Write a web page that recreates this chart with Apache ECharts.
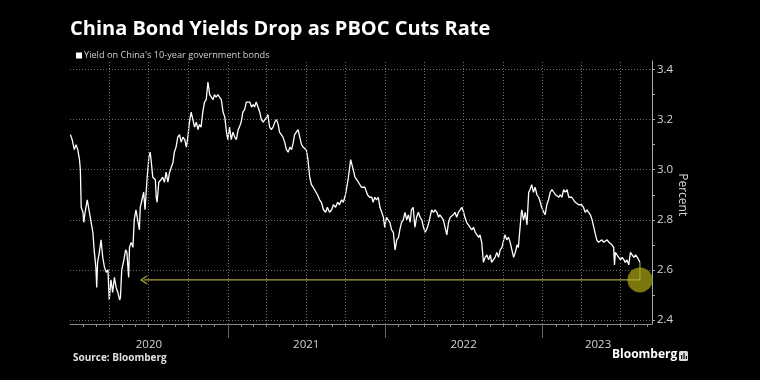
<!DOCTYPE html>
<html>
<head>
<meta charset="utf-8">
<script src="https://cdn.jsdelivr.net/npm/echarts@6/dist/echarts.min.js"></script>
<style>
html,body{margin:0;padding:0;background:#000;}
#chart{width:760px;height:380px;}
</style>
</head>
<body>
<div id="chart"></div>
<script>
const titleText = 'China Bond Yields Drop as PBOC Cuts Rate';
const seriesName = "Yield on China's 10-year government bonds";
const sourceText = 'Source: Bloomberg';
const yearLabels = ['2020', '2021', '2022', '2023'];
const yearLabelDates = ['2020-07-02', '2021-07-02', '2022-07-02', '2023-05-10'];
const yearBoundaryDates = ['2021-01-01', '2022-01-01', '2023-01-01'];
const axisStart = '2020-01-01';
const axisEnd = '2023-09-12';
const yMin = 2.4, yMax = 3.4, yStep = 0.2;
const annotationLevel = 2.56;
const annotationArrowDate = '2020-06-21';

const dates = [
'2020-01-02','2020-01-06','2020-01-11','2020-01-15','2020-01-19','2020-01-23','2020-01-25','2020-01-27','2020-01-31','2020-02-02',
'2020-02-05','2020-02-10','2020-02-13','2020-02-17','2020-02-23','2020-02-26','2020-03-01','2020-03-03','2020-03-05','2020-03-09',
'2020-03-13','2020-03-17','2020-03-21','2020-03-25','2020-03-29','2020-04-01','2020-04-05','2020-04-09','2020-04-13','2020-04-17',
'2020-04-21','2020-04-25','2020-04-27','2020-04-30','2020-05-05','2020-05-09','2020-05-12','2020-05-16','2020-05-18','2020-05-22',
'2020-05-26','2020-05-29','2020-06-02','2020-06-06','2020-06-10','2020-06-12','2020-06-16','2020-06-20','2020-06-23','2020-06-28',
'2020-07-02','2020-07-05','2020-07-07','2020-07-11','2020-07-17','2020-07-19','2020-07-21','2020-07-25','2020-07-30','2020-08-03',
'2020-08-07','2020-08-11','2020-08-15','2020-08-19','2020-08-23','2020-08-27','2020-08-30','2020-09-03','2020-09-07','2020-09-11',
'2020-09-15','2020-09-19','2020-09-23','2020-09-27','2020-10-01','2020-10-04','2020-10-08','2020-10-12','2020-10-16','2020-10-20',
'2020-10-24','2020-10-27','2020-10-31','2020-11-04','2020-11-08','2020-11-12','2020-11-16','2020-11-20','2020-11-24','2020-11-28',
'2020-12-01','2020-12-05','2020-12-09','2020-12-13','2020-12-17','2020-12-21','2020-12-25','2020-12-29','2021-01-01','2021-01-05',
'2021-01-09','2021-01-13','2021-01-17','2021-01-21','2021-01-25','2021-01-28','2021-02-01','2021-02-05','2021-02-09','2021-02-13',
'2021-02-17','2021-02-21','2021-02-25','2021-03-01','2021-03-04','2021-03-08','2021-03-12','2021-03-16','2021-03-20','2021-03-24',
'2021-03-28','2021-04-01','2021-04-04','2021-04-08','2021-04-12','2021-04-16','2021-04-20','2021-04-24','2021-04-28','2021-05-01',
'2021-05-05','2021-05-09','2021-05-13','2021-05-17','2021-05-21','2021-05-25','2021-05-29','2021-06-02','2021-06-05','2021-06-09',
'2021-06-13','2021-06-17','2021-06-21','2021-06-25','2021-06-29','2021-07-02','2021-07-06','2021-07-10','2021-07-14','2021-07-18',
'2021-07-22','2021-07-28','2021-08-02','2021-08-06','2021-08-11','2021-08-16','2021-08-20','2021-08-25','2021-08-30','2021-09-03',
'2021-09-08','2021-09-13','2021-09-17','2021-09-22','2021-09-26','2021-10-01','2021-10-07','2021-10-13','2021-10-19','2021-10-23',
'2021-10-31','2021-11-07','2021-11-15','2021-11-21','2021-11-26','2021-12-01','2021-12-04','2021-12-08','2021-12-12','2021-12-16',
'2021-12-20','2021-12-24','2021-12-28','2021-12-31','2022-01-04','2022-01-08','2022-01-12','2022-01-16','2022-01-20','2022-01-24',
'2022-01-28','2022-02-01','2022-02-04','2022-02-08','2022-02-12','2022-02-16','2022-02-20','2022-02-24','2022-02-28','2022-03-03',
'2022-03-07','2022-03-11','2022-03-15','2022-03-19','2022-03-23','2022-03-27','2022-03-31','2022-04-04','2022-04-07','2022-04-11',
'2022-04-15','2022-04-19','2022-04-23','2022-04-27','2022-05-01','2022-05-05','2022-05-08','2022-05-12','2022-05-16','2022-05-20',
'2022-05-24','2022-05-28','2022-06-01','2022-06-04','2022-06-08','2022-06-12','2022-06-16','2022-06-20','2022-06-24','2022-06-28',
'2022-07-02','2022-07-05','2022-07-09','2022-07-13','2022-07-17','2022-07-21','2022-07-25','2022-07-29','2022-08-02','2022-08-06',
'2022-08-09','2022-08-13','2022-08-17','2022-08-21','2022-08-25','2022-08-29','2022-09-02','2022-09-05','2022-09-09','2022-09-13',
'2022-09-17','2022-09-21','2022-09-25','2022-09-29','2022-10-03','2022-10-06','2022-10-10','2022-10-14','2022-10-18','2022-10-22',
'2022-10-26','2022-10-30','2022-11-03','2022-11-06','2022-11-10','2022-11-13','2022-11-14','2022-11-18','2022-11-22','2022-11-26',
'2022-11-30','2022-12-03','2022-12-07','2022-12-11','2022-12-15','2022-12-19','2022-12-23','2022-12-27','2022-12-30','2023-01-04',
'2023-01-07','2023-01-11','2023-01-15','2023-01-19','2023-01-23','2023-01-27','2023-01-31','2023-02-04','2023-02-08','2023-02-11',
'2023-02-15','2023-02-19','2023-02-23','2023-02-27','2023-03-03','2023-03-06','2023-03-10','2023-03-18','2023-03-26','2023-04-02',
'2023-04-06','2023-04-10','2023-04-14','2023-04-18','2023-04-22','2023-04-26','2023-04-30','2023-05-04','2023-05-07','2023-05-11',
'2023-05-15','2023-05-19','2023-05-23','2023-05-27','2023-05-31','2023-06-04','2023-06-08','2023-06-11','2023-06-15','2023-06-17',
'2023-06-19','2023-06-23','2023-06-27','2023-07-01','2023-07-05','2023-07-09','2023-07-12','2023-07-16','2023-07-20','2023-07-24',
'2023-07-28','2023-08-01','2023-08-05','2023-08-09','2023-08-13','2023-08-15'
];
const yields = [
3.14,3.12,3.08,3.10,3.08,3.04,3.00,2.85,2.83,2.79,
2.83,2.88,2.88,2.81,2.75,2.68,2.61,2.53,2.63,2.67,
2.72,2.65,2.61,2.59,2.60,2.48,2.56,2.51,2.57,2.53,
2.51,2.48,2.49,2.60,2.64,2.68,2.67,2.57,2.69,2.71,
2.69,2.80,2.84,2.80,2.76,2.85,2.88,2.91,2.84,2.97,
3.05,3.07,3.04,2.97,2.96,2.89,2.87,2.95,2.96,2.97,
2.95,2.99,2.95,2.99,2.99,3.03,3.07,3.09,3.13,3.14,
3.11,3.13,3.12,3.09,3.14,3.19,3.23,3.20,3.17,3.19,
3.16,3.18,3.17,3.23,3.27,3.28,3.35,3.30,3.30,3.28,
3.30,3.29,3.30,3.29,3.28,3.23,3.21,3.15,3.12,3.17,
3.12,3.15,3.13,3.12,3.16,3.17,3.19,3.23,3.24,3.27,
3.27,3.27,3.25,3.26,3.25,3.27,3.25,3.23,3.20,3.19,
3.20,3.21,3.22,3.17,3.16,3.17,3.19,3.20,3.18,3.15,
3.14,3.13,3.11,3.08,3.07,3.09,3.08,3.11,3.14,3.15,
3.16,3.13,3.10,3.09,3.09,3.08,3.04,2.97,2.94,2.93,
2.93,2.90,2.88,2.87,2.84,2.83,2.85,2.83,2.84,2.86,
2.85,2.87,2.86,2.88,2.87,2.90,2.96,3.04,3.00,2.97,
2.95,2.93,2.93,2.90,2.89,2.89,2.87,2.89,2.88,2.89,
2.85,2.83,2.81,2.77,2.81,2.80,2.79,2.76,2.75,2.68,
2.72,2.73,2.76,2.79,2.80,2.83,2.80,2.82,2.79,2.84,
2.85,2.77,2.81,2.83,2.81,2.80,2.77,2.75,2.76,2.78,
2.81,2.84,2.83,2.84,2.83,2.81,2.82,2.81,2.80,2.77,
2.74,2.79,2.81,2.81,2.82,2.83,2.81,2.83,2.83,2.85,
2.83,2.81,2.79,2.78,2.77,2.76,2.77,2.75,2.75,2.73,
2.74,2.71,2.63,2.65,2.66,2.64,2.66,2.63,2.63,2.65,
2.67,2.65,2.68,2.69,2.72,2.74,2.72,2.73,2.71,2.68,
2.65,2.67,2.70,2.69,2.69,2.83,2.84,2.80,2.83,2.78,
2.91,2.92,2.94,2.91,2.93,2.90,2.89,2.87,2.85,2.83,
2.82,2.86,2.88,2.91,2.92,2.91,2.90,2.90,2.89,2.90,
2.89,2.92,2.91,2.92,2.89,2.89,2.89,2.87,2.86,2.86,
2.85,2.83,2.84,2.83,2.82,2.80,2.77,2.74,2.72,2.71,
2.71,2.72,2.71,2.71,2.72,2.71,2.71,2.70,2.69,2.62,
2.67,2.66,2.65,2.64,2.65,2.64,2.63,2.64,2.62,2.67,
2.67,2.65,2.66,2.65,2.65,2.63
];

const ts = s => echarts.number.parseDate(s).getTime();
const startTs = ts(axisStart), endTs = ts(axisEnd);

// monthly and quarterly positions for axis ticks / grid lines
const monthTicks = [], quarterTicks = [];
for (let y = 2020; y <= 2023; y++) {
  for (let m = 1; m <= 12; m++) {
    const t = ts(y + '-' + String(m).padStart(2, '0') + '-01');
    if (t > startTs && t <= endTs) {
      monthTicks.push(t);
      if ((m - 1) % 3 === 0) quarterTicks.push(t);
    }
  }
}
const yearLabelTs = yearLabelDates.map(ts);

const lineData = dates.map((d, i) => [ts(d), yields[i]]);
const lastX = ts(dates[dates.length - 1]);
const lastVal = yields[yields.length - 1];
const annoColor = '#aaa43c';
const gridColor = '#6e6e6e';

const FONT = '"Open Sans", "Noto Sans", sans-serif';
const chart = echarts.init(document.getElementById('chart'), null, {renderer: 'canvas'});

chart.setOption({
  backgroundColor: '#000',
  animation: false,
  title: {
    text: titleText, left: 65, top: 14,
    textStyle: {color: '#fff', fontSize: 20, fontWeight: 'bold', fontFamily: FONT}
  },
  legend: {
    data: [seriesName], left: 71, top: 46, icon: 'rect', itemWidth: 6, itemHeight: 6, itemGap: 4,
    textStyle: {color: '#d0d0d0', fontSize: 9.2, fontFamily: FONT, padding: [0, 0, 0, -3]},
    selectedMode: false
  },
  grid: [
    {left: 70, right: 108, top: 69.5, bottom: 60},
    {left: 70, right: 108, top: 61, bottom: 56}
  ],
  xAxis: [
    {
      type: 'value', gridIndex: 0, min: startTs, max: endTs,
      axisLine: {show: false}, axisTick: {show: false}, axisLabel: {show: false}, splitLine: {show: false}
    },
    {
      type: 'value', gridIndex: 1, min: startTs, max: endTs,
      axisLine: {show: true, onZero: false, lineStyle: {color: '#8a8a8a', width: 1}},
      axisTick: {show: true, customValues: monthTicks, length: 3, lineStyle: {color: '#8a8a8a'}},
      axisLabel: {show: false}, splitLine: {show: false}
    },
    {
      type: 'value', gridIndex: 1, min: startTs, max: endTs, position: 'bottom', offset: 13,
      axisLine: {show: false},
      axisTick: {show: true, customValues: yearBoundaryDates.map(ts), length: 14, lineStyle: {color: '#666'}},
      axisLabel: {
        show: true, customValues: yearLabelTs, margin: 2,
        color: '#d4d4d4', fontSize: 11.5, fontFamily: FONT,
        formatter: v => { const i = yearLabelTs.indexOf(v); return i >= 0 ? yearLabels[i] : ''; }
      },
      splitLine: {show: false}
    }
  ],
  yAxis: [
    {
      type: 'value', gridIndex: 0, position: 'right', min: yMin, max: yMax, interval: yStep,
      name: 'Percent', nameLocation: 'middle', nameGap: 24, nameRotate: -90, nameMoveOverlap: false,
      nameTextStyle: {color: '#d4d4d4', fontSize: 12, fontFamily: FONT},
      axisLine: {show: false},
      axisTick: {show: true, length: 3, lineStyle: {color: '#aaa'}},
      minorTick: {show: true, splitNumber: 2, length: 3, lineStyle: {color: '#aaa'}},
      axisLabel: {color: '#d4d4d4', fontSize: 11.5, fontFamily: FONT, margin: 5, formatter: v => v.toFixed(1)},
      splitLine: {show: true, lineStyle: {color: gridColor, type: [1, 2], width: 1}}
    },
    {
      type: 'value', gridIndex: 1, position: 'right', min: 0, max: 1,
      axisLine: {show: true, onZero: false, lineStyle: {color: '#aaa', width: 1}},
      axisTick: {show: false}, axisLabel: {show: false}, splitLine: {show: false}
    }
  ],
  series: [
    {
      name: 'quarter grid', type: 'line', xAxisIndex: 1, yAxisIndex: 1, z: 0,
      data: [[startTs, -1]], showSymbol: false, symbol: 'none', lineStyle: {width: 0}, silent: true,
      markLine: {
        silent: true, symbol: ['none', 'none'], label: {show: false}, animation: false,
        lineStyle: {color: gridColor, type: [1, 2], width: 1},
        emphasis: {disabled: true},
        data: quarterTicks.map(t => ({xAxis: t}))
      }
    },
    {
      name: 'highlight', type: 'scatter', xAxisIndex: 0, yAxisIndex: 0, z: 1,
      data: [[lastX, annotationLevel]], symbolSize: 25,
      itemStyle: {color: '#7a770c', opacity: 1}, silent: true
    },
    {
      name: seriesName, type: 'line', xAxisIndex: 0, yAxisIndex: 0, z: 3,
      data: lineData, showSymbol: false, symbol: 'none',
      lineStyle: {color: '#ffffff', width: 1.3}, itemStyle: {color: '#ffffff'}
    },
    {
      name: 'annotation', type: 'line', xAxisIndex: 0, yAxisIndex: 0, z: 4,
      data: [
        {value: [lastX, lastVal], symbol: 'none'},
        {value: [lastX, annotationLevel], symbol: 'none'},
        {value: [ts(annotationArrowDate), annotationLevel], symbol: 'path://M10,0 L0,6 L10,12', symbolSize: [6, 8],
         itemStyle: {color: 'rgba(0,0,0,0)', borderColor: annoColor, borderWidth: 1.2}}
      ],
      showSymbol: true, lineStyle: {color: annoColor, width: 1.2}, silent: true
    }
  ],
  graphic: [
    {type: 'text', left: 73, top: 353, style: {text: sourceText, fill: '#e0e0e0', font: 'bold 10px ' + FONT}},
    {type: 'text', left: 612, top: 349, style: {text: 'Bloomberg', fill: '#ffffff', font: 'bold 12px ' + FONT}},
    {type: 'rect', shape: {x: 679, y: 351, width: 9, height: 10, r: 1.5}, style: {fill: '#dcdcdc'}},
    {type: 'rect', shape: {x: 681, y: 355, width: 1.2, height: 4}, style: {fill: '#000'}},
    {type: 'rect', shape: {x: 683.4, y: 353, width: 1.2, height: 6}, style: {fill: '#000'}},
    {type: 'rect', shape: {x: 685.8, y: 356, width: 1.2, height: 3}, style: {fill: '#000'}}
  ]
});
</script>
</body>
</html>
